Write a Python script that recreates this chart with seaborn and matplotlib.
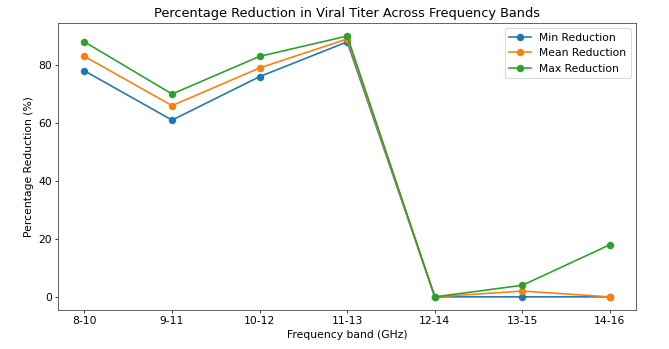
import matplotlib
matplotlib.use("Agg")
import matplotlib.pyplot as plt
import seaborn as sns
import pandas as pd

bands = ["8-10", "9-11", "10-12", "11-13", "12-14", "13-15", "14-16"]
min_red = [78, 61, 76, 88, 0, 0, 0]
mean_red = [83, 66, 79, 89, 0, 2, 0]
max_red = [88, 70, 83, 90, 0, 4, 18]

# long-form table for seaborn
df = pd.concat([
    pd.DataFrame({"band": bands, "value": min_red, "series": "Min Reduction"}),
    pd.DataFrame({"band": bands, "value": mean_red, "series": "Mean Reduction"}),
    pd.DataFrame({"band": bands, "value": max_red, "series": "Max Reduction"}),
])

plt.rcParams["font.size"] = 11.6
plt.rcParams["axes.edgecolor"] = "#333333"

fig, ax = plt.subplots(figsize=(10, 5.217), dpi=66.9)
sns.lineplot(data=df, x="band", y="value", hue="series", marker="o",
             markersize=8, markeredgewidth=0, linewidth=1.75,
             palette=["#1f77b4", "#ff7f0e", "#2ca02c"], ax=ax)

ax.set_title("Percentage Reduction in Viral Titer Across Frequency Bands", fontsize=13.9)
ax.set_xlabel("Frequency band (GHz)")
ax.set_ylabel("Percentage Reduction (%)")
ax.legend(title=None, loc="upper right")

fig.subplots_adjust(left=0.087, right=0.951, top=0.934, bottom=0.112)
fig.savefig("out.png", dpi=66.9)
